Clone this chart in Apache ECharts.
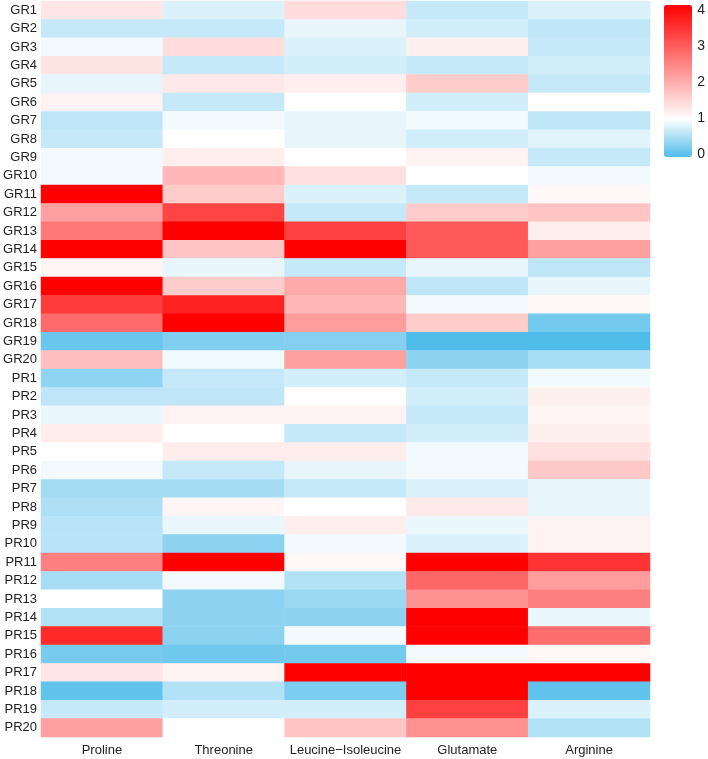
<!DOCTYPE html>
<html>
<head>
<meta charset="utf-8">
<script src="https://cdn.jsdelivr.net/npm/echarts@6/dist/echarts.min.js"></script>
<style>
html,body{margin:0;padding:0;background:#fff;}
#chart{width:708px;height:759px;}
</style>
</head>
<body>
<div id="chart"></div>
<script>
var columns = ['Proline', 'Threonine', 'Leucine\u2212Isoleucine', 'Glutamate', 'Arginine'];
var rows = ['GR1','GR2','GR3','GR4','GR5','GR6','GR7','GR8','GR9','GR10',
            'GR11','GR12','GR13','GR14','GR15','GR16','GR17','GR18','GR19','GR20',
            'PR1','PR2','PR3','PR4','PR5','PR6','PR7','PR8','PR9','PR10',
            'PR11','PR12','PR13','PR14','PR15','PR16','PR17','PR18','PR19','PR20'];

// One array per column, values per row (GR1..GR20, PR1..PR20)
var proline = [1.3,0.67,0.93,1.32,0.87,1.15,0.63,0.67,0.93,0.93,
               4,2.12,2.6,4,1.12,4,3.3,2.75,0.15,1.75,
               0.36,0.63,0.88,1.22,1.0,0.93,0.48,0.53,0.6,0.6,
               2.5,0.5,1.0,0.56,3.5,0.22,1.3,0.1,0.67,2.12];
var threonine = [0.8,0.67,1.4,0.67,1.27,0.67,0.93,1.0,1.2,1.85,
                 1.6,3.2,4,1.7,0.87,1.6,3.6,4,0.28,0.92,
                 0.67,0.63,1.15,1.0,1.22,0.67,0.48,1.12,0.88,0.35,
                 4,0.93,0.35,0.35,0.35,0.18,1.15,0.56,0.74,1.0];
var leucine = [1.4,0.87,0.8,0.74,1.2,1.0,0.87,0.87,1.0,1.38,
               0.8,0.67,3.25,4,0.67,2.0,1.85,2.15,0.3,2.12,
               0.74,1.0,1.15,0.67,1.22,0.87,0.67,1.0,1.2,0.93,
               1.08,0.56,0.43,0.35,0.93,0.2,4,0.25,0.74,1.7];
var glutamate = [0.67,0.74,1.18,0.67,1.6,0.74,0.92,0.74,1.15,1.0,
                 0.67,1.6,2.95,2.95,0.87,0.63,0.93,1.6,0.0,0.35,
                 0.67,0.74,0.67,0.74,0.93,0.93,0.8,1.25,0.88,0.8,
                 4,2.8,2.3,4,4,0.93,4,4,3.25,2.3];
var arginine = [0.8,0.63,0.67,0.74,0.67,1.0,0.63,0.82,0.67,0.93,
                1.08,1.7,1.2,2.12,0.63,0.87,1.08,0.2,0.0,0.5,
                0.92,1.18,1.12,1.18,1.38,1.65,0.87,0.87,1.15,1.15,
                3.4,2.15,2.5,0.88,2.7,1.08,4,0.1,0.8,0.56];
var legendTicks = [0, 1, 2, 3, 4];

var series = [proline, threonine, leucine, glutamate, arginine];
var data = [];
for (var c = 0; c < series.length; c++) {
  for (var r = 0; r < rows.length; r++) {
    data.push([c, r, series[c][r]]);
  }
}

var font = "'Liberation Sans', Arial, sans-serif";
var chart = echarts.init(document.getElementById('chart'), null, {renderer: 'canvas'});
chart.setOption({
  animation: false,
  backgroundColor: '#ffffff',
  grid: [
    {left: 41, right: 58, top: 1, bottom: 22},
    {left: 664, width: 28, top: 10, height: 144}
  ],
  xAxis: [
    {
      type: 'category', data: columns, gridIndex: 0,
      axisLine: {show: false}, axisTick: {show: false}, splitLine: {show: false},
      axisLabel: {interval: 0, fontSize: 13, color: '#222', fontFamily: font, margin: 7}
    },
    {type: 'value', gridIndex: 1, show: false}
  ],
  yAxis: [
    {
      type: 'category', data: rows, inverse: true, gridIndex: 0,
      axisLine: {show: false}, axisTick: {show: false}, splitLine: {show: false},
      axisLabel: {interval: 0, fontSize: 13, color: '#222', fontFamily: font, margin: 4}
    },
    {
      type: 'value', gridIndex: 1, min: legendTicks[0], max: legendTicks[legendTicks.length - 1], interval: 1,
      position: 'right',
      axisLine: {show: false}, axisTick: {show: false}, splitLine: {show: false},
      axisLabel: {fontSize: 14, color: '#222', fontFamily: font, margin: 8}
    }
  ],
  visualMap: {
    type: 'continuous',
    min: 0, max: 4,
    calculable: false,
    seriesIndex: 0,
    left: 664, top: 5,
    itemWidth: 28, itemHeight: 152,
    padding: 0,
    text: null,
    showLabel: false,
    hoverLink: false,
    inRange: {color: ['#50BCEA', '#FFFFFF', '#FFAAAA', '#FF5555', '#FF0000']}
  },
  series: [{
    type: 'heatmap',
    xAxisIndex: 0, yAxisIndex: 0,
    data: data,
    itemStyle: {borderWidth: 0},
    emphasis: {disabled: true}
  }]
});
</script>
</body>
</html>
